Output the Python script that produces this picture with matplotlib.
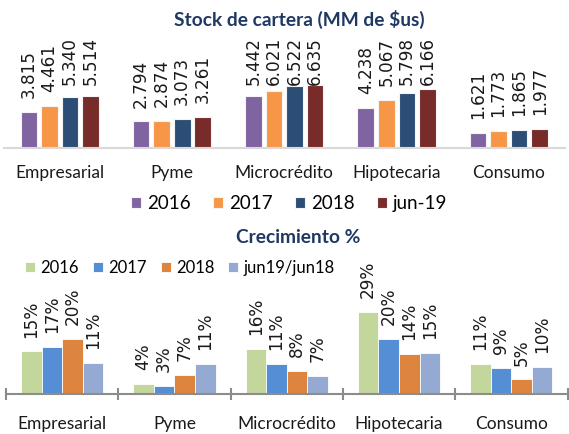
import matplotlib
matplotlib.use("Agg")
import matplotlib.pyplot as plt
import numpy as np

plt.rcParams['font.family'] = ['Lato', 'DejaVu Sans']

categorias = ["Empresarial", "Pyme", "Microcrédito", "Hipotecaria", "Consumo"]

# Stock de cartera (MM de $us)
stock_series = ["2016", "2017", "2018", "jun-19"]
stock_2016 = [3815, 2794, 5442, 4238, 1621]
stock_2017 = [4461, 2874, 6021, 5067, 1773]
stock_2018 = [5340, 3073, 6522, 5798, 1865]
stock_jun19 = [5514, 3261, 6635, 6166, 1977]
stock_colors = ["#8064A2", "#F79646", "#2C4D75", "#772C2A"]

# Crecimiento %
crec_series = ["2016", "2017", "2018", "jun19/jun18"]
crec_2016 = [15.2, 3.6, 16.0, 29.4, 10.8]
crec_2017 = [16.9, 2.9, 10.6, 19.6, 9.4]
crec_2018 = [19.7, 6.9, 8.3, 14.4, 5.2]
crec_jun = [11.0, 10.7, 6.6, 14.6, 9.6]
crec_colors = ["#C3D69B", "#558ED5", "#DD843E", "#95AAD2"]

W, H = 569, 434
fig = plt.figure(figsize=(W / 100, H / 100), dpi=100)

x = np.arange(len(categorias))
step = 0.183

# ---- top chart
ax1 = fig.add_axes([3.5 / W, (H - 148) / H, 561.5 / W, 123 / H])
top_labels = []
for j, (vals, col) in enumerate(zip([stock_2016, stock_2017, stock_2018, stock_jun19], stock_colors)):
    pos = x + (j - 1.5) * step
    ax1.bar(pos, vals, width=0.148, color=col, edgecolor="#F4F4F4", linewidth=0.8,
            label=stock_series[j])
    for p, v in zip(pos, vals):
        t = ax1.annotate(f"{v:,.0f}".replace(",", "."), (p, v), xytext=(0, 10),
                         textcoords="offset points", rotation=90, ha="center", va="bottom",
                         fontsize=12.2, family="DejaVu Sans", color="#1a1a1a")
        top_labels.append(t)
ax1.set_xlim(-0.5, 4.5)
ax1.set_ylim(0, 12950)
ax1.set_yticks([])
for s in ["top", "right", "left"]:
    ax1.spines[s].set_visible(False)
ax1.spines["bottom"].set_color("#D9D9D9")
ax1.spines["bottom"].set_linewidth(1.5)
ax1.set_xticks(x)
ax1.set_xticklabels(categorias, fontsize=12.5, color="#1a1a1a")
ax1.tick_params(axis="x", length=0, pad=12)

fig.text(299 / W, 1 - 19 / H, "Stock de cartera (MM de $us)", ha="center", va="center",
         fontsize=13.8, fontweight="bold", color="#1F3864")
h1, l1 = ax1.get_legend_handles_labels()
fig.legend(h1, l1, loc="center", bbox_to_anchor=(289 / W, 1 - 204 / H), ncol=4,
           frameon=False, fontsize=13.5, handlelength=0.53, handleheight=0.53,
           handletextpad=0.32, columnspacing=1.2, borderaxespad=0)

# ---- bottom chart
ax2 = fig.add_axes([6 / W, 40 / H, 561.5 / W, 109 / H])
for j, (vals, col) in enumerate(zip([crec_2016, crec_2017, crec_2018, crec_jun], crec_colors)):
    pos = x + (j - 1.5) * step
    ax2.bar(pos, vals, width=step, color=col, edgecolor="white", linewidth=0.6,
            label=crec_series[j])
    for p, v in zip(pos, vals):
        ax2.annotate(f"{v:.0f}%", (p, v), xytext=(0, 10),
                     textcoords="offset points", rotation=90, ha="center", va="bottom",
                     fontsize=12.2, family="DejaVu Sans", color="#1a1a1a")
ax2.set_xlim(-0.5, 4.5)
ax2.set_ylim(0, 38.9)
ax2.set_yticks([])
for s in ["top", "right", "left"]:
    ax2.spines[s].set_visible(False)
ax2.spines["bottom"].set_color("#8C8C8C")
ax2.spines["bottom"].set_linewidth(1.5)
ax2.set_xticks(np.arange(-0.5, 5, 1))
ax2.set_xticklabels([])
ax2.tick_params(axis="x", which="major", direction="inout", length=8, width=1.5, color="#8C8C8C")
ax2.set_xticks(x, minor=True)
ax2.set_xticklabels(categorias, minor=True, fontsize=12.5, color="#1a1a1a")
ax2.tick_params(axis="x", which="minor", length=0, pad=16)

fig.text(298 / W, 1 - 238 / H, "Crecimiento %", ha="center", va="center",
         fontsize=13.8, fontweight="bold", color="#1F3864")
h2, l2 = ax2.get_legend_handles_labels()
fig.legend(h2, l2, loc="center", bbox_to_anchor=(180 / W, 1 - 268 / H), ncol=4,
           frameon=False, fontsize=12, handlelength=0.6, handleheight=0.6,
           handletextpad=0.3, columnspacing=0.85, borderaxespad=0)

# push labels that run into the title back down, like the original does
fig.canvas.draw()
renderer = fig.canvas.get_renderer()
limit = H - 37
for t in top_labels:
    bb = t.get_window_extent(renderer)
    if bb.y1 > limit:
        dx, dy = t.xyann
        t.xyann = (dx, dy - (bb.y1 - limit) * 72 / fig.dpi)

fig.savefig("out.png", dpi=100)
